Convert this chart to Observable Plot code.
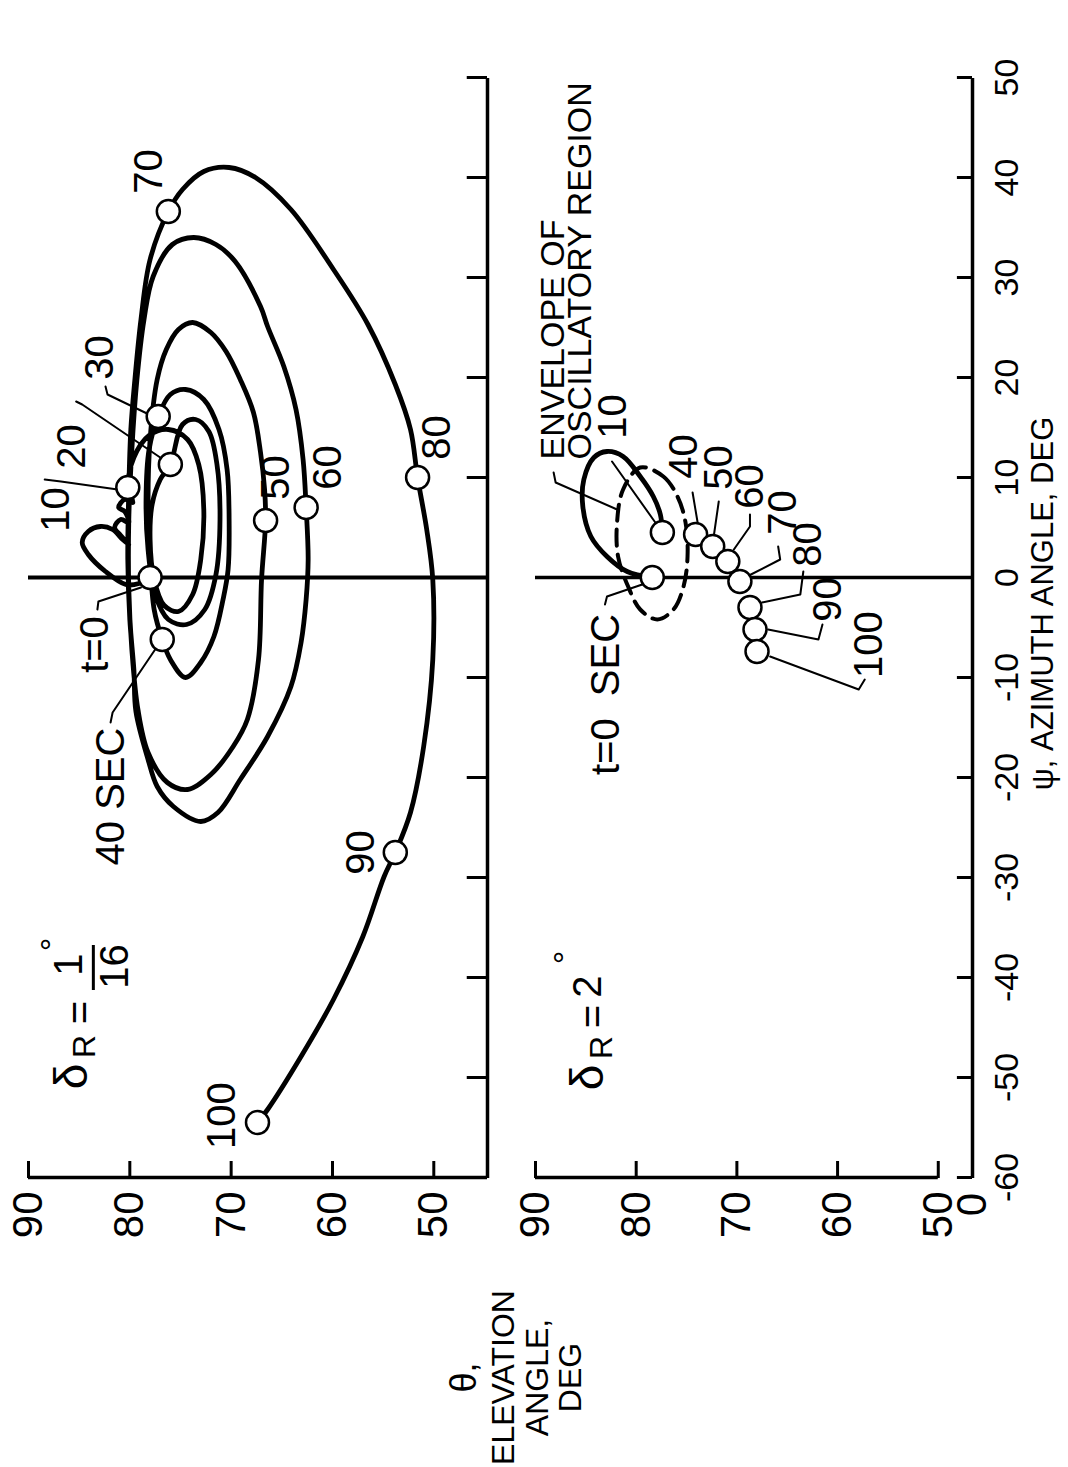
<!DOCTYPE html>
<html><head><meta charset="utf-8">
<script src="https://cdn.jsdelivr.net/npm/d3@7"></script>
<script src="https://cdn.jsdelivr.net/npm/@observablehq/plot@0.6"></script>
<style>
html,body{margin:0;padding:0;background:#fff;width:1068px;height:1467px;overflow:hidden;}
#stage{position:absolute;left:0;top:0;width:1467px;height:1068px;transform-origin:0 0;transform:translate(0px,1467px) rotate(-90deg);}
#top,#bottom{position:absolute;left:0;}
#top{top:0px}
#bottom{top:420px}
</style></head>
<body><div id="stage"><div id="bottom"></div><div id="top"></div></div>
<script>
// ---------- axes ----------
const psiTicks = [-60,-50,-40,-30,-20,-10,0,10,20,30,40,50];
const thetaTicks = [90,80,70,60,50];
const psiDomain = [-60, 50];
const topThetaDomain = [44.7, 90];
const botThetaDomain = [46.6, 90];

// ---------- upper panel, deltaR = 1/16 deg : trajectory [psi, theta] ----------
const topPath = [
 [0.0,78.0],[-0.6,79.1],[-0.7,80.4],[0.6,82.4],[2.3,84.1],[3.5,84.7],[4.6,84.1],[5.1,82.9],[4.8,81.7],[3.8,80.7],
 [3.3,80.1],[4.2,80.9],[5.0,81.5],[5.8,80.9],[5.5,80.1],[6.6,80.5],[7.0,81.1],[7.8,80.5],[7.5,79.7],[9.0,80.2],
 [12.0,79.6],[14.2,78.1],[14.8,76.2],[13.8,74.3],[11.3,73.2],[6.8,72.7],[1.8,73.0],[-1.7,73.8],[-3.4,75.2],[-2.8,76.6],
 [-0.2,77.6],[3.8,78.0],[7.3,77.8],[9.8,77.0],[11.3,76.0],
 [15.3,74.8],[15.8,73.5],[14.6,72.2],[11.3,71.4],[5.8,71.1],[0.3,71.5],[-3.2,72.6],[-4.7,74.4],[-4.2,76.2],[-1.7,77.5],
 [2.8,78.2],[7.8,78.4],[12.8,78.1],[16.1,77.2],
 [18.3,76.0],[18.8,74.5],[17.8,72.7],[14.8,71.2],[10.8,70.4],[5.8,70.2],[0.8,70.3],[-2.2,70.8],[-5.9,71.7],[-8.5,73.0],
 [-10.0,74.5],[-8.2,76.0],[-6.2,76.8],
 [-3.2,77.6],[1.8,78.0],[7.8,78.2],[13.8,78.0],[19.8,77.3],[22.8,76.4],[24.8,75.2],[25.5,73.8],[24.5,72.0],[22.6,70.5],
 [19.8,69.1],[16.5,67.8],[12.5,67.1],[8.8,66.7],[5.7,66.6],
 [-0.2,67.0],[-8.2,67.3],[-14.2,68.4],[-16.9,69.8],[-19.7,72.0],[-21.2,74.3],[-20.5,76.3],[-17.5,78.2],[-13.2,79.2],[-7.2,79.8],
 [-1.2,80.1],[5.8,80.1],[12.8,79.8],[19.8,79.3],[25.8,78.6],[30.1,77.7],[33.3,75.8],[34.0,73.7],[33.3,71.5],[31.6,69.6],
 [27.1,67.1],[25.1,66.4],[21.1,64.8],[16.8,63.6],[11.8,62.9],[7.0,62.6],
 [1.8,62.4],[-2.2,62.6],[-6.5,63.1],[-10.9,64.1],[-15.9,66.4],[-20.2,69.1],[-23.5,71.3],[-24.4,73.0],[-22.9,75.7],[-20.9,77.3],
 [-18.2,78.2],[-13.4,79.4],[-9.2,79.6],[-4.2,80.0],[1.8,80.2],[8.8,80.1],[14.8,79.9],[19.8,79.5],[25.8,78.9],[31.8,78.0],[36.6,76.2],
 [38.8,74.8],[40.6,72.7],[41.0,70.2],[40.0,67.6],[36.8,64.1],[30.8,59.9],[25.3,56.5],[19.3,53.8],[14.8,52.3],[10.0,51.6],
 [4.8,50.7],[-0.2,50.1],[-8.2,50.1],[-16.9,51.0],[-23.5,52.3],[-27.5,53.8],
 [-29.9,54.9],[-35.9,57.0],[-42.2,59.9],[-47.9,63.1],[-53.2,66.4],[-54.5,67.4]
];
const topMarkTime  = [0, 10, 20, 30, 40, 50, 60, 70, 80, 90, 100];
const topMarkPsi   = [0.0, 9.0, 11.3, 16.1, -6.2, 5.7, 7.0, 36.6, 10.0, -27.5, -54.5];
const topMarkTheta = [78.0, 80.2, 76.0, 77.2, 76.8, 66.6, 62.6, 76.2, 51.6, 53.8, 67.4];

const topLabelText  = ["10","20","30","50","60","70","80","90","100","t=0","40 SEC"];
const topLabelPsi   = [6.8, 13.1, 22.0, 10.0, 11.0, 40.6, 14.0, -27.5, -53.8, -6.7, -21.9];
const topLabelTheta = [87.3, 85.7, 82.9, 65.6, 60.4, 78.1, 49.7, 57.2, 70.9, 83.4, 81.8];
const topLeaders = [
 [[9.8,88.4],[9.6,86.8],[8.8,81.2]],
 [[17.6,85.3],[17.3,84.7],[12.0,77.0]],
 [[19.1,82.4],[18.3,82.2],[16.3,78.1]],
 [[-3.2,83.2],[-2.4,83.1],[-1.0,78.9]],
 [[-14.5,81.9],[-13.5,81.7],[-7.2,77.5]]
];

// ---------- lower panel, deltaR = 2 deg ----------
const botPath = [[0.0,78.4],[0.6,80.9],[2.1,82.9],[4.1,84.5],[7.1,85.3],[9.8,85.2],[12.0,84.2],[12.6,82.9],[12.1,81.3],[10.1,79.6],[8.1,78.3],[6.3,77.6],[4.5,77.4]];
const envelope = [[11.0,79.6],[10.1,77.3],[8.1,75.9],[5.5,75.1],[2.1,74.9],[-0.9,75.3],[-3.2,76.3],[-4.2,77.9],[-3.2,79.6],[-0.9,80.8],[2.1,81.8],[5.5,81.9],[8.8,81.3]];
const botMarkTime  = [0, 10, 40, 50, 60, 70, 80, 90, 100];
const botMarkPsi   = [0.0, 4.5, 4.3, 3.1, 1.6, -0.4, -3.0, -5.2, -7.4];
const botMarkTheta = [78.4, 77.4, 74.1, 72.4, 70.9, 69.7, 68.7, 68.2, 68.0];
const botLabelText  = ["10","40","50","60","70","80","90","100","t=0\u00a0\u00a0SEC"];
const botLabelPsi   = [16.1, 12.1, 11.0, 9.1, 6.5, 3.3, -2.2, -6.7, -11.7];
const botLabelTheta = [82.3, 75.2, 71.8, 68.7, 65.4, 62.9, 60.9, 56.9, 83.0];
const botLeaders = [
 [[11.6,82.4],[5.5,78.1]],
 [[8.5,74.4],[5.5,73.9]],
 [[7.6,71.8],[4.1,72.3]],
 [[6.3,68.7],[5.1,68.7],[2.8,70.3]],
 [[3.1,65.9],[1.8,65.7],[0.1,69.0]],
 [[0.6,63.4],[-1.7,63.7],[-2.5,67.5]],
 [[-4.7,61.5],[-6.2,61.9],[-5.2,66.9]],
 [[-10.2,57.3],[-11.2,57.9],[-7.9,66.7]],
 [[-2.7,83.1],[-1.9,82.9],[-0.7,79.4]],
 [[10.5,88.2],[9.5,88.0],[6.8,81.9]]
];
const envelopeText  = ["ENVELOPE OF", "OSCILLATORY REGION"];
const envelopePsi   = [11.8, 11.8];
const envelopeTheta = [88.3, 85.6];

// parameter annotations
const topParamText  = ["δ", "R", "=", "1", "16", "°"];
const topParamPsi   = [-49.9, -46.9, -43.5, -38.7, -38.9, -36.7];
const topParamTheta = [85.7, 84.4, 84.9, 86.0, 81.4, 87.6];
const topFracBar = {theta: 83.6, psi1: -41.2, psi2: -36.7};
const botParamText  = ["δ", "R", "=", "2", "°"];
const botParamPsi   = [-50.0, -47.0, -43.9, -40.9, -38.0];
const botParamTheta = [84.8, 83.4, 84.3, 84.8, 87.0];

const thetaTitle = ["θ,", "ELEVATION", "ANGLE,", "DEG"];
const thetaTitlePsi = -80;
const thetaTitleTheta = [97.1, 93.2, 89.8, 86.5];
const psiTitle = {text: "ψ, AZIMUTH ANGLE, DEG", psi: -2.6, theta: 39.6};
const cornerText = {text: "0", psi: -62.7, theta: 46.6};

// ---------- helpers ----------
const P = a => a.map(([psi, theta]) => ({psi, theta}));
const zip3 = (a, p, t, key) => a.map((v, i) => ({[key]: v, psi: p[i], theta: t[i]}));
const lead = arr => arr.flatMap((pl, k) => pl.map(([psi, theta]) => ({k, psi, theta})));
const FONT = "'Liberation Sans', Arial, Helvetica, sans-serif";
const sizeOf = t => t === "δ" ? 46 : t === "R" ? 32 : t === "°" ? 34 : 40;

function frame(marks, height, marginTop, marginBottom, ydom) {
  return Plot.plot({
    width: 1467, height, marginLeft: 289, marginRight: 78, marginTop, marginBottom,
    x: {domain: psiDomain, axis: null},
    y: {domain: ydom, axis: null},
    style: {background: "transparent", overflow: "visible", fontFamily: FONT, color: "black"},
    marks
  });
}

// ---------- upper plot ----------
const tMin = topThetaDomain[0];
const topMarks = zip3(topMarkTime, topMarkPsi, topMarkTheta, "time");
const topLabels = zip3(topLabelText, topLabelPsi, topLabelTheta, "text");
const topParams = zip3(topParamText, topParamPsi, topParamTheta, "text");
const topPlot = frame([
  Plot.ruleX([0], {x: d => d, y1: tMin, y2: 90, strokeWidth: 4}),
  Plot.ruleX([psiDomain[0]], {x: d => d, y1: tMin, y2: 90, strokeWidth: 3.5}),
  Plot.ruleY([tMin], {y: d => d, x1: psiDomain[0], x2: psiDomain[1], strokeWidth: 3.5}),
  Plot.ruleY(thetaTicks, {y: d => d, x1: -60, x2: -58.3, strokeWidth: 3}),
  Plot.ruleX(psiTicks, {x: d => d, y1: tMin, y2: tMin + 2, strokeWidth: 3}),
  Plot.text(thetaTicks, {x: () => -60, y: d => d, text: d => String(d), textAnchor: "end", dx: -14, fontSize: 42}),
  Plot.line(P(topPath), {x: "psi", y: "theta", curve: "catmull-rom", strokeWidth: 4.8, strokeLinejoin: "round", strokeLinecap: "round"}),
  Plot.line(lead(topLeaders), {x: "psi", y: "theta", z: "k", strokeWidth: 2}),
  Plot.dot(topMarks, {x: "psi", y: "theta", r: 11.5, fill: "white", stroke: "black", strokeWidth: 2.5}),
  Plot.text(topLabels, {x: "psi", y: "theta", text: "text", fontSize: 40}),
  Plot.text(topParams, {x: "psi", y: "theta", text: "text", fontSize: d => sizeOf(d.text)}),
  Plot.ruleY([topFracBar], {y: "theta", x1: "psi1", x2: "psi2", strokeWidth: 3})
], 520, 28, 33, topThetaDomain);
document.getElementById("top").appendChild(topPlot);

// ---------- lower plot ----------
const bMin = botThetaDomain[0];
const botMarks = zip3(botMarkTime, botMarkPsi, botMarkTheta, "time");
const botLabels = zip3(botLabelText, botLabelPsi, botLabelTheta, "text");
const botParams = zip3(botParamText, botParamPsi, botParamTheta, "text");
const envLabels = zip3(envelopeText, envelopePsi, envelopeTheta, "text");
const botPlot = frame([
  Plot.ruleX([0], {x: d => d, y1: bMin, y2: 90, strokeWidth: 3.5}),
  Plot.ruleX([psiDomain[0]], {x: d => d, y1: 50, y2: 90, strokeWidth: 3.5}),
  Plot.ruleY([bMin], {y: d => d, x1: psiDomain[0], x2: psiDomain[1], strokeWidth: 3.5}),
  Plot.ruleY(thetaTicks, {y: d => d, x1: -60, x2: -58.3, strokeWidth: 3}),
  Plot.ruleX(psiTicks, {x: d => d, y1: bMin, y2: bMin + 1.5, strokeWidth: 3}),
  Plot.text(thetaTicks, {x: () => -60, y: d => d, text: d => String(d), textAnchor: "end", dx: -14, fontSize: 42}),
  Plot.text(psiTicks, {x: d => d, y: () => bMin, text: d => String(d), lineAnchor: "top", dy: 21, fontSize: 34}),
  Plot.text([psiTitle], {x: "psi", y: "theta", text: "text", fontSize: 31}),
  Plot.text([cornerText], {x: "psi", y: "theta", text: "text", fontSize: 42}),
  Plot.text(thetaTitle, {x: () => thetaTitlePsi, y: (d, i) => thetaTitleTheta[i], text: d => d, fontSize: (d, i) => i === 0 ? 36 : 32, fontStyle: (d, i) => i === 0 ? "italic" : "normal"}),
  Plot.line(P(envelope), {x: "psi", y: "theta", curve: "catmull-rom-closed", strokeWidth: 4, strokeDasharray: "16,9"}),
  Plot.line(P(botPath), {x: "psi", y: "theta", curve: "catmull-rom", strokeWidth: 4.8, strokeLinecap: "round"}),
  Plot.line(lead(botLeaders), {x: "psi", y: "theta", z: "k", strokeWidth: 2}),
  Plot.dot(botMarks, {x: "psi", y: "theta", r: 11.5, fill: "white", stroke: "black", strokeWidth: 2.5}),
  Plot.text(botLabels, {x: "psi", y: "theta", text: "text", fontSize: 40}),
  Plot.text(envLabels, {x: "psi", y: "theta", text: "text", textAnchor: "start", fontSize: 34}),
  Plot.text(botParams, {x: "psi", y: "theta", text: "text", fontSize: d => sizeOf(d.text)})
], 648, 115, 96, botThetaDomain);
document.getElementById("bottom").appendChild(botPlot);
</script>
</body></html>
